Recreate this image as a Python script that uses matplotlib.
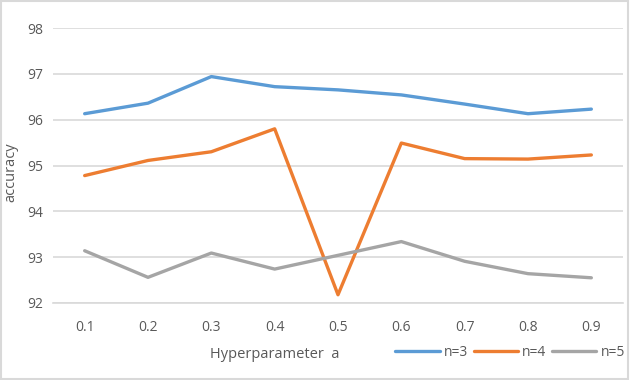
import matplotlib
matplotlib.use("Agg")
import matplotlib.pyplot as plt
from matplotlib.patches import Rectangle

plt.rcParams['font.family'] = ['Open Sans', 'DejaVu Sans']

categories = ["0.1", "0.2", "0.3", "0.4", "0.5", "0.6", "0.7", "0.8", "0.9"]
n3 = [96.13, 96.36, 96.94, 96.72, 96.65, 96.54, 96.34, 96.13, 96.23]
n4 = [94.78, 95.11, 95.30, 95.80, 92.18, 95.49, 95.15, 95.14, 95.23]
n5 = [93.14, 92.56, 93.09, 92.74, 93.04, 93.34, 92.91, 92.64, 92.55]
series_names = ["n=3", "n=4", "n=5"]
yticks = [92, 93, 94, 95, 96, 97, 98]

colors = ["#5B9BD5", "#ED7D31", "#A5A5A5"]
W, H = 630, 380
fig = plt.figure(figsize=(W/100, H/100), dpi=100)
ax = fig.add_axes([53/W, 1-303/H, (623-53)/W, (303-28)/H])

x = list(range(len(categories)))
for vals, name, c in zip([n3, n4, n5], series_names, colors):
    ax.plot(x, vals, color=c, lw=2.4, label=name, solid_capstyle='round')

ax.set_xlim(-0.5, len(categories)-0.5)
ax.set_ylim(92, 98)
ax.set_yticks(yticks)
ax.set_xticks(x)
ax.set_xticklabels(categories)
ax.grid(axis='y', color='#D9D9D9', lw=1.2)
ax.set_axisbelow(True)
for s in ['top', 'right', 'left']:
    ax.spines[s].set_visible(False)
ax.spines['bottom'].set_color('#D9D9D9')
ax.spines['bottom'].set_linewidth(1.2)
ax.tick_params(axis='both', length=0, colors='#595959', labelsize=10)
ax.tick_params(axis='x', pad=12)
ax.tick_params(axis='y', pad=7)

fig.text(275/W, 1-355/H, "Hyperparameter  a", ha='center', va='center', fontsize=10.5, color='#595959')
fig.text(11/W, 1-172/H, "accuracy", ha='center', va='center', rotation=90, fontsize=10.5, color='#595959')

leg = fig.legend(loc='center', bbox_to_anchor=(510/W, 1-352/H), ncol=3, frameon=False,
                 fontsize=10, handlelength=3.2, handletextpad=0.3, columnspacing=0.4,
                 labelcolor='#595959')

fig.patches.append(Rectangle((0.002, 0.003), 0.995, 0.994, transform=fig.transFigure,
                             fill=False, edgecolor='#D9D9D9', lw=1.5))
fig.savefig("out.png", dpi=100)
